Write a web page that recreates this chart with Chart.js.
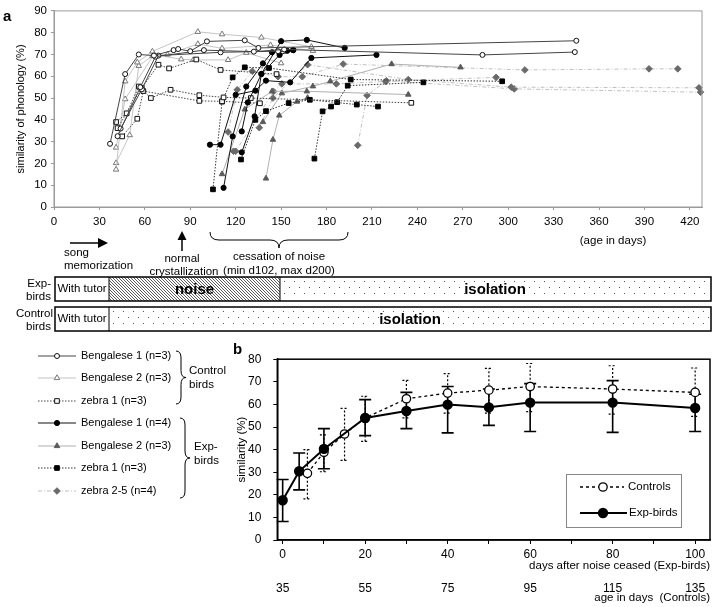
<!DOCTYPE html>
<html>
<head>
<meta charset="utf-8">
<script src="https://cdn.jsdelivr.net/npm/chart.js@4.4.1/dist/chart.umd.min.js"></script>
<style>
  body { margin: 0; width: 720px; height: 607px; position: relative; background: #fff; overflow: hidden; }
  canvas { position: absolute; }
  #deco { left: 0; top: 0; }
  #chartA { left: 0; top: 0; }
  #chartB { left: 200px; top: 340px; }
</style>
</head>
<body>
<canvas id="deco" width="720" height="607"></canvas>
<canvas id="chartA" width="720" height="232"></canvas>
<canvas id="chartB" width="520" height="267"></canvas>
<script>
// ---- panel a: age (days) vs similarity of phonology (%) per bird ----
const ageTicks = [0, 30, 60, 90, 120, 150, 180, 210, 240, 270, 300, 330, 360, 390, 420];
const phonTicks = [0, 10, 20, 30, 40, 50, 60, 70, 80, 90];

// control birds
const ctrlBeng1 = [
    [[37, 29], [47, 61], [56, 70], [66, 69.5], [79, 72], [82, 72.5], [90, 71.5], [101, 76], [126, 76.5], [135, 73], [345, 76.3]],
    [[42, 32.5], [57, 55], [67, 69], [99, 72], [132, 71.3], [152, 72.3], [283, 69.8], [344, 71.1]],
    [[44, 36], [58, 54], [69, 69.5], [110, 71], [148, 71.5]]
];
const ctrlBeng2 = [
    [[41, 17.2], [47, 57.7], [55, 66.4], [65, 71.4], [95, 80.4], [111, 79.3], [137, 77.8], [170, 73.5]],
    [[41, 20.2], [50, 33], [56, 64.8], [65, 69.3], [75, 70], [95, 74.8], [111, 72.8], [143, 74.3], [171, 71.7]],
    [[41, 27.3], [47, 49.5], [66, 70], [84, 67.8], [92, 67.5], [115, 67.5], [127, 70.8], [150, 66]]
];
const ctrlZebra1 = [
    [[41, 39], [48, 43], [56, 55.3], [64, 50], [77, 53.8], [96, 51.3], [112, 50.3], [130, 50], [236, 47.8]],
    [[42, 36.2], [58, 54.7], [69, 65.3], [76, 63.6], [94, 67.7], [110, 62.9], [147, 61]],
    [[45, 32.4], [55, 40.5], [59, 53.2], [96, 48.7], [111, 48.5], [136, 47.6]]
];
// exp birds
const expBeng1 = [
    [[103, 28.6], [110, 28.6], [120, 51.5], [133, 53.4], [140, 58], [156, 57.2], [170, 68.4], [213, 69.8]],
    [[112, 8.8], [118, 32.4], [127, 55.3], [138, 65.9], [144, 71], [154, 71.7], [158, 72]],
    [[124, 25.1], [132.5, 41.6], [137, 61.1], [150, 76.1], [167, 76.7], [192, 73]],
    [[124, 34.7], [128, 48], [137, 61], [149, 69.8], [158, 72]]
];
const expBeng2 = [
    [[111, 15.1], [126, 44.8], [144, 53.1], [167, 53.1], [234, 51.6]],
    [[138, 39], [150.5, 52.2], [171, 55.4], [182.5, 57.7], [223, 65.6], [268.5, 64.1]],
    [[140, 13.1], [144.6, 30.9], [148.8, 42], [160.5, 48.4], [167.5, 50.1]]
];
const expZebra1 = [
    [[105, 8.1], [111, 48.4], [118, 59.5], [126, 64.1], [142, 63.8], [196, 58.5], [296, 57.7]],
    [[123.5, 21.8], [133, 40], [140, 44], [155, 47.7], [169, 49.2], [200, 47], [214, 46.1]],
    [[172, 22.2], [177.4, 43.9], [183, 46.1], [187, 48.1], [194, 55.7], [244, 57.2]]
];
const expZebra25 = [
    [[115, 34.4], [121, 53.8], [131, 62.3], [148, 59.8], [164, 59.8], [191, 65.6], [311, 62.9], [393, 63.4], [412, 63.4]],
    [[118.6, 25.6], [120, 25.6], [145, 53], [150.5, 56.5], [186.5, 56.5], [219, 57.6], [292, 59.5]],
    [[135.6, 36.4], [144.6, 50], [167.5, 65.3], [234, 58.5], [302, 55], [426, 54.7]],
    [[200.6, 28.3], [206.8, 51.2], [219.5, 57.9], [304, 54.2], [427, 52.7]]
];

// ---- panel b: group means with error bars ----
const dayLabels = [0, 20, 40, 60, 80, 100];
const ageLabels = [35, 55, 75, 95, 115, 135];
const dayTickMarks = [0, 10, 20, 30, 40, 50, 60, 70, 80, 90, 100];
const simTicks = [0, 10, 20, 30, 40, 50, 60, 70, 80];

const ctrlDays = [6, 10, 15, 20, 30, 40, 50, 60, 80, 100];
const ctrlMean = [29.5, 38.8, 46.9, 54, 62.5, 65, 66.3, 67.9, 66.8, 65.3];
const ctrlLow = [18.2, 30.2, 35.2, 43.6, 54, 56.1, 56.1, 56.8, 55.7, 54.7];
const ctrlHigh = [40, 46.5, 58.2, 63.6, 70.6, 73.6, 75.9, 78.1, 77.1, 76.1];

const expDays = [0, 4, 10, 20, 30, 40, 50, 60, 80, 100];
const expMean = [17.6, 30.4, 40.3, 54, 57.1, 59.9, 58.7, 60.8, 60.8, 58.4];
const expLow = [8.2, 22.2, 31.5, 46.2, 49.3, 47.4, 50.7, 48, 47.6, 48];
const expHigh = [26.8, 38.5, 49.3, 62.1, 65.3, 67.9, 66.8, 69.2, 70.5, 64.5];

const FONT = "'Liberation Sans', Arial, Helvetica, sans-serif";
Chart.defaults.font.family = FONT;
Chart.defaults.color = "#000";

const styles = {
    cB1: { pointStyle: "circle", radius: 2.5, fill: "#fff", stroke: "#111", line: "#444", dash: [] },
    cB2: { pointStyle: "triangle", radius: 3.2, fill: "#fff", stroke: "#777", line: "#c4c4c4", dash: [] },
    cZ1: { pointStyle: "rect", radius: 3.3, fill: "#fff", stroke: "#111", line: "#444", dash: [1.5, 1.5] },
    eB1: { pointStyle: "circle", radius: 2.6, fill: "#000", stroke: "#000", line: "#111", dash: [] },
    eB2: { pointStyle: "triangle", radius: 3.2, fill: "#5a5a5a", stroke: "#5a5a5a", line: "#b0b0b0", dash: [] },
    eZ1: { pointStyle: "rect", radius: 3.3, fill: "#000", stroke: "#000", line: "#333", dash: [1.5, 1.5] },
    eZ25: { pointStyle: "rectRot", radius: 3.3, fill: "#6a6a6a", stroke: "#6a6a6a", line: "#c0c0c0", dash: [4, 2, 1, 2] }
};

function birdSets(birds, s) {
    return birds.map(b => ({
        data: b.map(p => ({ x: p[0], y: p[1] })),
        showLine: true,
        borderColor: s.line,
        borderWidth: 1,
        borderDash: s.dash,
        pointStyle: s.pointStyle,
        pointRadius: s.radius,
        pointBackgroundColor: s.fill,
        pointBorderColor: s.stroke,
        pointBorderWidth: 1,
        tension: 0,
        clip: false
    }));
}

const frame = {
    id: "frame",
    afterDraw(chart, args, opts) {
        const { ctx, chartArea: a } = chart;
        ctx.save();
        ctx.strokeStyle = opts.color;
        ctx.lineWidth = opts.width;
        ctx.strokeRect(a.left, a.top, a.right - a.left, a.bottom - a.top);
        ctx.restore();
    }
};

const errorBars = {
    id: "errorBars",
    beforeDatasetsDraw(chart) {
        const { ctx } = chart;
        const xs = chart.scales.x, ys = chart.scales.y;
        chart.data.datasets.forEach(ds => {
            if (!ds.errLow) return;
            ctx.save();
            ctx.strokeStyle = "#000";
            ctx.lineWidth = ds.errWidth;
            ctx.setLineDash(ds.errDash);
            ds.data.forEach((p, i) => {
                const x = xs.getPixelForValue(p.x);
                const y1 = ys.getPixelForValue(ds.errLow[i]);
                const y2 = ys.getPixelForValue(ds.errHigh[i]);
                ctx.beginPath();
                ctx.moveTo(x, y1); ctx.lineTo(x, y2);
                ctx.moveTo(x - ds.errCap, y1); ctx.lineTo(x + ds.errCap, y1);
                ctx.moveTo(x - ds.errCap, y2); ctx.lineTo(x + ds.errCap, y2);
                ctx.stroke();
            });
            ctx.restore();
        });
    }
};

const fnt = (size, weight) => ({ family: FONT, size: size, weight: weight || "normal" });

// ---- chart a ----
new Chart(document.getElementById("chartA"), {
    type: "scatter",
    data: {
        datasets: [].concat(
            birdSets(ctrlBeng1, styles.cB1),
            birdSets(expBeng1, styles.eB1),
            birdSets(ctrlZebra1, styles.cZ1),
            birdSets(expZebra1, styles.eZ1),
            birdSets(ctrlBeng2, styles.cB2),
            birdSets(expBeng2, styles.eB2),
            birdSets(expZebra25, styles.eZ25)
        )
    },
    options: {
        responsive: false,
        animation: false,
        layout: { padding: { left: 14, top: 10, right: 18, bottom: 0 } },
        plugins: {
            legend: { display: false },
            tooltip: { enabled: false },
            frame: { color: "#9a9a9a", width: 1 }
        },
        scales: {
            x: {
                type: "linear", min: 0, max: 428,
                afterBuildTicks: s => { s.ticks = ageTicks.map(v => ({ value: v })); },
                afterFit: s => { s.height = 25; },
                ticks: { font: fnt(11.5), color: "#000", padding: 5, maxRotation: 0, autoSkip: false },
                grid: { drawOnChartArea: false, tickLength: 3, color: "#9a9a9a" },
                border: { color: "#9a9a9a" }
            },
            y: {
                min: 0, max: 90,
                afterBuildTicks: s => { s.ticks = phonTicks.map(v => ({ value: v })); },
                afterFit: s => { s.width = 40; },
                ticks: { font: fnt(11.5), color: "#000", padding: 4, autoSkip: false },
                grid: { drawOnChartArea: false, tickLength: 3, color: "#9a9a9a" },
                border: { color: "#9a9a9a" },
                title: { display: true, text: "similarity of phonology (%)", font: fnt(11), color: "#000", padding: { top: 0, bottom: 0 } }
            }
        }
    },
    plugins: [frame]
});

// ---- chart b ----
new Chart(document.getElementById("chartB"), {
    type: "scatter",
    data: {
        datasets: [
            {
                label: "Exp-birds",
                data: expDays.map((d, i) => ({ x: d, y: expMean[i] })),
                errLow: expLow, errHigh: expHigh, errWidth: 1.6, errDash: [], errCap: 6,
                showLine: true, borderColor: "#000", borderWidth: 2, tension: 0,
                pointStyle: "circle", pointRadius: 4.2, pointBackgroundColor: "#000", pointBorderColor: "#000", clip: false
            },
            {
                label: "Controls",
                data: ctrlDays.map((d, i) => ({ x: d, y: ctrlMean[i] })),
                errLow: ctrlLow, errHigh: ctrlHigh, errWidth: 1.2, errDash: [2, 2], errCap: 4,
                showLine: true, borderColor: "#000", borderWidth: 1.3, borderDash: [3, 3], tension: 0,
                pointStyle: "circle", pointRadius: 4.2, pointBackgroundColor: "#fff", pointBorderColor: "#000", pointBorderWidth: 1.3, clip: false
            }
        ]
    },
    options: {
        responsive: false,
        animation: false,
        layout: { padding: { left: 35, top: 12, right: 10, bottom: 0 } },
        plugins: {
            legend: { display: false },
            tooltip: { enabled: false },
            frame: { color: "#000", width: 1.5 }
        },
        scales: {
            x: {
                type: "linear", min: -1.3, max: 103.6,
                afterBuildTicks: s => { s.ticks = dayTickMarks.map(v => ({ value: v })); },
                afterFit: s => { s.height = 35; },
                ticks: {
                    font: fnt(12), color: "#000", padding: 3, maxRotation: 0, autoSkip: false,
                    callback: v => dayLabels.includes(v) ? String(v) : ""
                },
                grid: { drawOnChartArea: false, tickLength: 4, color: "#000" },
                border: { color: "#000", width: 1.5 },
                title: { display: true, align: "end", text: "days after noise ceased (Exp-birds)", font: fnt(11.5), color: "#000", padding: { top: 0, bottom: 2 } }
            },
            x2: {
                type: "linear", axis: "x", position: "bottom", weight: 1, min: -1.3, max: 103.6,
                afterBuildTicks: s => { s.ticks = dayLabels.map(v => ({ value: v })); },
                afterFit: s => { s.height = 32; },
                ticks: {
                    font: fnt(12), color: "#000", padding: 6, maxRotation: 0, autoSkip: false,
                    callback: v => String(ageLabels[dayLabels.indexOf(v)])
                },
                grid: { display: false, drawTicks: false },
                border: { display: false },
                title: { display: true, align: "end", text: "age in days  (Controls)", font: fnt(11.5), color: "#000", padding: { top: 0, bottom: 2 } }
            },
            y: {
                min: 0, max: 80,
                afterBuildTicks: s => { s.ticks = simTicks.map(v => ({ value: v })); },
                afterFit: s => { s.width = 42.3; },
                ticks: { font: fnt(12), color: "#000", padding: 12, autoSkip: false },
                grid: { drawOnChartArea: false, tickLength: 4, color: "#000" },
                border: { color: "#000", width: 1.5 },
                title: { display: true, text: "similarity (%)", font: fnt(11.5), color: "#000", padding: { top: 0, bottom: 0 } }
            }
        }
    },
    plugins: [frame, errorBars]
});

// ---- decorations: labels, timeline bars, legends ----
const c = document.getElementById("deco").getContext("2d");
c.textBaseline = "middle";

function text(str, x, y, size, align, weight) {
    c.font = (weight || "normal") + " " + size + "px " + FONT;
    c.textAlign = align || "left";
    c.fillStyle = "#000";
    c.fillText(str, x, y);
}
function arrow(x1, y1, x2, y2, head) {
    const ang = Math.atan2(y2 - y1, x2 - x1);
    c.strokeStyle = "#000"; c.lineWidth = 1.5;
    c.beginPath(); c.moveTo(x1, y1);
    c.lineTo(x2 - Math.cos(ang) * head * 0.8, y2 - Math.sin(ang) * head * 0.8); c.stroke();
    c.fillStyle = "#000";
    c.beginPath();
    c.moveTo(x2, y2);
    c.lineTo(x2 - Math.cos(ang) * head + Math.sin(ang) * head / 2, y2 - Math.sin(ang) * head - Math.cos(ang) * head / 2);
    c.lineTo(x2 - Math.cos(ang) * head - Math.sin(ang) * head / 2, y2 - Math.sin(ang) * head + Math.cos(ang) * head / 2);
    c.closePath(); c.fill();
}
function hBrace(x1, x2, y, h) {
    const xm = (x1 + x2) / 2, r = 9;
    c.strokeStyle = "#000"; c.lineWidth = 1;
    c.beginPath();
    c.moveTo(x1, y);
    c.quadraticCurveTo(x1, y + h / 2, x1 + r, y + h / 2);
    c.lineTo(xm - r, y + h / 2);
    c.quadraticCurveTo(xm, y + h / 2, xm, y + h);
    c.quadraticCurveTo(xm, y + h / 2, xm + r, y + h / 2);
    c.lineTo(x2 - r, y + h / 2);
    c.quadraticCurveTo(x2, y + h / 2, x2, y);
    c.stroke();
}
function vBrace(x, y1, y2, w) {
    const ym = (y1 + y2) / 2, r = 7;
    c.strokeStyle = "#000"; c.lineWidth = 1;
    c.beginPath();
    c.moveTo(x, y1);
    c.quadraticCurveTo(x + w / 2, y1, x + w / 2, y1 + r);
    c.lineTo(x + w / 2, ym - r);
    c.quadraticCurveTo(x + w / 2, ym, x + w, ym);
    c.quadraticCurveTo(x + w / 2, ym, x + w / 2, ym + r);
    c.lineTo(x + w / 2, y2 - r);
    c.quadraticCurveTo(x + w / 2, y2, x, y2);
    c.stroke();
}
function dots(x1, x2, y, h) {
    c.fillStyle = "#555";
    let row = 0;
    for (let yy = y + 4; yy < y + h - 2; yy += 6, row++) {
        for (let xx = x1 + 4 + (row % 2) * 5; xx < x2 - 2; xx += 10) c.fillRect(xx, yy, 1, 1);
    }
}
function hatch(x1, x2, y, h) {
    c.save();
    c.beginPath(); c.rect(x1, y, x2 - x1, h); c.clip();
    c.strokeStyle = "#333"; c.lineWidth = 0.8;
    c.beginPath();
    for (let i = x1 - h; i < x2; i += 3) { c.moveTo(i, y); c.lineTo(i + h, y + h); }
    c.stroke();
    c.restore();
}

// panel letters
text("a", 3, 17, 15, "left", "bold");
text("b", 233, 350, 15, "left", "bold");

// panel a annotations
arrow(70, 243, 108, 243, 10);
text("song", 64, 253, 11.5);
text("memorization", 64, 266, 11.5);
arrow(182, 251, 182, 231, 9);
text("normal", 182, 259, 11.5, "center");
text("crystallization", 184, 272, 11.5, "center");
hBrace(210, 348, 232, 16);
text("cessation of noise", 279, 257, 11.5, "center");
text("(min d102, max d200)", 279, 271, 11.5, "center");
text("(age in days)", 613, 241, 11.5, "center");

// timeline bars
const barL = 55, tutorR = 109, noiseR = 280, barR = 711;
const expY = 277, ctlY = 307, barH = 24;
dots(noiseR, barR, expY, barH);
hatch(tutorR, noiseR, expY, barH);
dots(tutorR, barR, ctlY, barH);
c.strokeStyle = "#000"; c.lineWidth = 1.5;
c.strokeRect(barL, expY, barR - barL, barH);
c.strokeRect(barL, ctlY, barR - barL, barH);
c.lineWidth = 1;
c.beginPath();
c.moveTo(tutorR, expY); c.lineTo(tutorR, expY + barH);
c.moveTo(noiseR, expY); c.lineTo(noiseR, expY + barH);
c.moveTo(tutorR, ctlY); c.lineTo(tutorR, ctlY + barH);
c.stroke();
text("With tutor", 82, expY + barH / 2, 11.5, "center");
text("With tutor", 82, ctlY + barH / 2, 11.5, "center");
text("noise", (tutorR + noiseR) / 2, expY + barH / 2 + 1, 15, "center", "bold");
text("isolation", 495, expY + barH / 2 + 1, 15, "center", "bold");
text("isolation", 410, ctlY + barH / 2 + 1, 15, "center", "bold");
text("Exp-", 51, expY + 7, 11.5, "right");
text("birds", 51, expY + 20, 11.5, "right");
text("Control", 53, ctlY + 7, 11.5, "right");
text("birds", 51, ctlY + 20, 11.5, "right");

// panel a legend
const legendRows = [
    ["Bengalese 1 (n=3)", styles.cB1], ["Bengalese 2 (n=3)", styles.cB2], ["zebra 1 (n=3)", styles.cZ1],
    ["Bengalese 1 (n=4)", styles.eB1], ["Bengalese 2 (n=3)", styles.eB2], ["zebra 1 (n=3)", styles.eZ1],
    ["zebra 2-5 (n=4)", styles.eZ25]
];
const rowY = [356, 378, 401, 423, 446, 468, 491];
legendRows.forEach(([label, s], i) => {
    const y = rowY[i];
    c.save();
    c.strokeStyle = s.line; c.lineWidth = 1; c.setLineDash(s.dash);
    c.beginPath(); c.moveTo(38, y); c.lineTo(76, y); c.stroke();
    c.restore();
    c.fillStyle = s.fill; c.strokeStyle = s.stroke; c.lineWidth = 1;
    Chart.helpers.drawPoint(c, { pointStyle: s.pointStyle, radius: s.radius, rotation: 0, borderWidth: 1 }, 57, y);
    text(label, 81, y, 11);
});
vBrace(176, 351, 404, 10);
text("Control", 189, 371, 11.5);
text("birds", 189, 385, 11.5);
vBrace(180, 418, 498, 10);
text("Exp-", 194, 447, 11.5);
text("birds", 194, 461, 11.5);

// panel b legend box
c.strokeStyle = "#888"; c.lineWidth = 1;
c.strokeRect(566.5, 474.5, 115, 53);
c.save();
c.strokeStyle = "#000"; c.lineWidth = 1.3; c.setLineDash([3, 3]);
c.beginPath(); c.moveTo(580, 487); c.lineTo(624, 487); c.stroke();
c.restore();
c.fillStyle = "#fff"; c.strokeStyle = "#000"; c.lineWidth = 1.3;
Chart.helpers.drawPoint(c, { pointStyle: "circle", radius: 4.2, borderWidth: 1.3 }, 603, 487);
text("Controls", 628, 487, 11.5);
c.strokeStyle = "#000"; c.lineWidth = 2;
c.beginPath(); c.moveTo(580, 513); c.lineTo(627, 513); c.stroke();
c.fillStyle = "#000";
Chart.helpers.drawPoint(c, { pointStyle: "circle", radius: 4.2, borderWidth: 1 }, 603, 513);
text("Exp-birds", 629, 513, 11.5);
</script>
</body>
</html>
